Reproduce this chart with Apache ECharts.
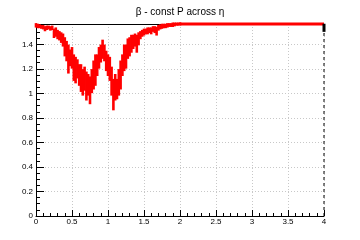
<!DOCTYPE html>
<html><head><meta charset="utf-8">
<script src="https://cdn.jsdelivr.net/npm/echarts@6/dist/echarts.min.js"></script>
<style>html,body{margin:0;padding:0;background:#fff}#c{width:360px;height:240px}</style>
</head><body><div id="c"></div>
<script>
const titleText = 'β - const P across η';
const eta = [0.000,0.025,0.050,0.075,0.100,0.125,0.150,0.175,0.200,0.225,0.250,0.275,0.300,0.325,0.350,0.375,0.400,0.425,0.450,0.475,0.500,0.525,0.550,0.575,0.600,0.625,0.650,0.675,0.700,0.725,0.750,0.775,0.800,0.825,0.850,0.875,0.900,0.925,0.950,0.975,1.000,1.025,1.050,1.075,1.100,1.125,1.150,1.175,1.200,1.225,1.250,1.275,1.300,1.325,1.350,1.375,1.400,1.425,1.450,1.475,1.500,1.525,1.550,1.575,1.600,1.625,1.650,1.675,1.700,1.725,1.750,1.775,1.800,1.825,1.850,1.875,1.900,1.925,1.950,1.975,2.000];
const betaLo = [1.545,1.54,1.54,1.535,1.53,1.515,1.525,1.53,1.52,1.525,1.46,1.47,1.45,1.44,1.42,1.39,1.31,1.27,1.17,1.23,1.21,1.11,1.09,1.13,1.07,1.02,0.99,1.03,0.95,0.99,0.92,1.01,1.04,1.07,1.15,1.21,1.26,1.29,1.27,1.19,1.15,1.11,0.99,0.87,0.95,0.96,0.99,1.04,1.15,1.19,1.21,1.29,1.31,1.34,1.37,1.39,1.34,1.40,1.45,1.47,1.48,1.49,1.49,1.50,1.49,1.51,1.50,1.48,1.52,1.53,1.535,1.54,1.54,1.545,1.55,1.55,1.55,1.555,1.56,1.56,1.562];
const betaHi = [1.565,1.56,1.555,1.55,1.55,1.54,1.545,1.545,1.54,1.545,1.52,1.53,1.51,1.50,1.49,1.48,1.45,1.42,1.39,1.35,1.37,1.31,1.29,1.27,1.23,1.23,1.19,1.21,1.17,1.15,1.13,1.19,1.26,1.31,1.31,1.37,1.39,1.43,1.39,1.34,1.31,1.29,1.21,1.11,1.15,1.11,1.19,1.26,1.31,1.39,1.39,1.44,1.45,1.47,1.47,1.48,1.47,1.49,1.50,1.51,1.52,1.52,1.53,1.53,1.53,1.54,1.54,1.535,1.55,1.555,1.56,1.56,1.56,1.565,1.565,1.565,1.57,1.57,1.57,1.57,1.572];
const flatEta = [2.0, 4.0];
const flatBeta = [1.567, 1.567];
const lastEta = [4.0];
const lastLo = [1.51];
const lastHi = [1.56];
const lastBar = [0, 1.51];
const xTicks = ['0','0.5','1','1.5','2','2.5','3','3.5','4'];

const font = 'Liberation Sans, Arial, sans-serif';
const chart = echarts.init(document.getElementById('c'), null, {renderer:'canvas'});
function errRender(color, w){
  return function(params, api){
    const x = api.value(0), lo = api.value(1), hi = api.value(2);
    const p1 = api.coord([x, lo]), p2 = api.coord([x, hi]);
    return {type:'rect', shape:{x:p1[0]-w/2, y:p2[1]-1, width:w, height:p1[1]-p2[1]+2}, style:{fill:color}};
  };
}
chart.setOption({
  animation:false,
  title:{text:titleText,left:'center',top:2,textStyle:{fontFamily:font,fontSize:10,fontWeight:'normal',color:'#000'}},
  grid:{left:36,right:36,top:24,bottom:24},
  xAxis:[{type:'value',min:0,max:4,interval:0.5,
    axisLine:{lineStyle:{color:'#000',width:1}},
    axisTick:{inside:true,length:6,lineStyle:{color:'#000'}},
    minorTick:{show:true,splitNumber:5,length:3,lineStyle:{color:'#000'}},
    axisLabel:{margin:2,fontFamily:font,fontSize:8,color:'#000',formatter:function(v){return xTicks[Math.round(v*2)];}},
    splitLine:{show:true,lineStyle:{color:'#c8c8c8',type:[1,2],width:1}}},
   {type:'value',position:'top',min:0,max:4,axisLine:{show:true,lineStyle:{color:'#000'}},axisTick:{show:false},axisLabel:{show:false},splitLine:{show:false}}],
  yAxis:{type:'value',min:0,max:1.566,interval:0.2,
    axisLine:{show:true,lineStyle:{color:'#000',width:1}},
    axisTick:{inside:true,length:8,lineStyle:{color:'#000'}},
    minorTick:{show:true,splitNumber:4,length:4,lineStyle:{color:'#000'}},
    axisLabel:{margin:3,fontFamily:font,fontSize:8,color:'#000',showMaxLabel:false},
    splitLine:{show:true,lineStyle:{color:'#c8c8c8',type:[1,2],width:1}}},
  series:[
    {type:'line',data:[[lastEta[0],lastBar[0]],[lastEta[0],lastBar[1]]],symbol:'none',lineStyle:{color:'#000',width:1,type:[3,3]},z:3},
    {type:'line',data:flatEta.map((x,i)=>[x,flatBeta[i]]),symbol:'none',lineStyle:{color:'#ff0000',width:3},clip:false,z:4},
    {type:'custom',renderItem:errRender('#ff0000',2.6),clip:false,data:eta.map((x,i)=>[x,betaLo[i],betaHi[i]]),z:5},
    {type:'custom',renderItem:errRender('#000',3),clip:false,data:lastEta.map((x,i)=>[x,lastLo[i],lastHi[i]]),z:6}
  ]
});
</script></body></html>
